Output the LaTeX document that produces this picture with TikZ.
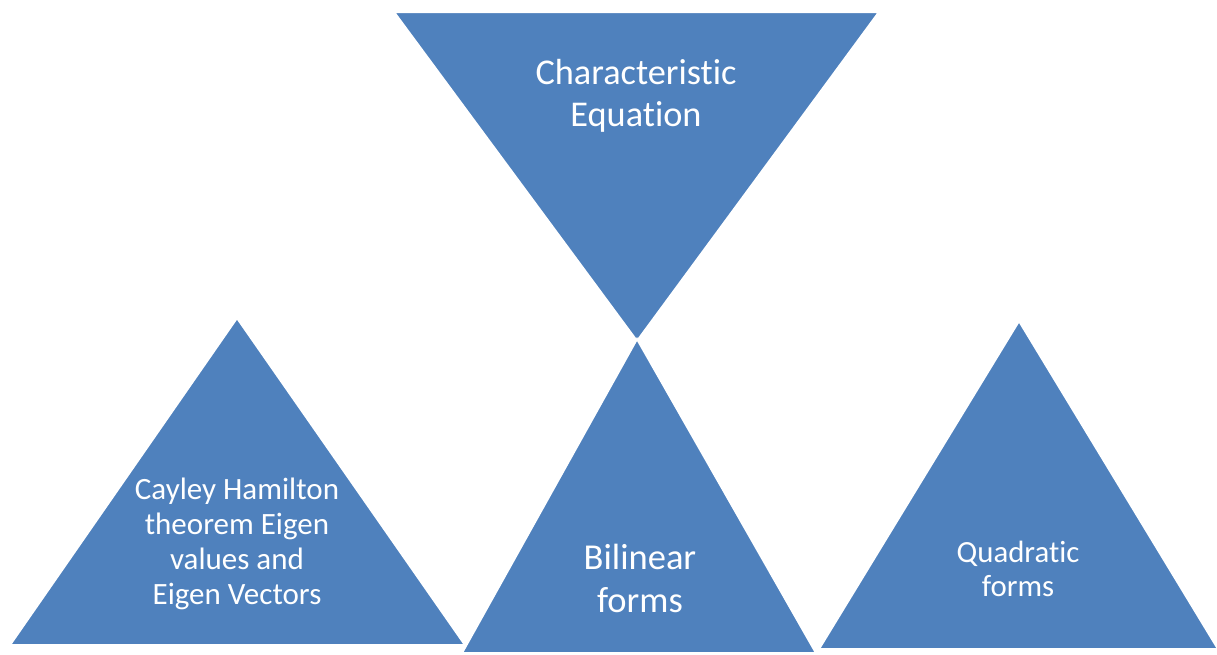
\documentclass[tikz,border=0pt]{standalone}
\usepackage{fontspec}
\setmainfont{Carlito}[Ligatures=NoCommon]
\definecolor{triblue}{HTML}{4F81BD}
\begin{document}
\begin{tikzpicture}[x=1pt,y=-1pt,
  tri/.style={fill=triblue,draw=white,line width=2pt,line join=miter},
  lbl/.style={text=white,align=center,inner sep=0pt}]
\useasboundingbox (0,0) rectangle (1217,654);
% inverted triangle on top
\path[tri] (394,12) -- (879,12) -- (637,341) -- cycle;
% left triangle
\path[tri] (10,645) -- (237,318) -- (465,645) -- cycle;
% right triangle
\path[tri] (819,649) -- (1019,321) -- (1218,649) -- cycle;
% middle triangle, over its neighbours
\path[tri] (462,653) -- (637,339) -- (816,653) -- cycle;
\node[lbl,font=\fontsize{36.3}{42}\selectfont] (chareq) at (636,96) {Characteristic\\Equation};
\node[lbl,font=\fontsize{31}{34.8}\selectfont] (cayley) at (237,544) {Cayley Hamilton\\theorem Eigen\\values and\\Eigen Vectors};
\node[lbl,font=\fontsize{36.5}{43}\selectfont] (bilin) at (640,578) {Bilinear\\forms};
\node[lbl,font=\fontsize{30.8}{34}\selectfont] (quad) at (1018,569) {Quadratic\\forms};
\end{tikzpicture}
\end{document}
